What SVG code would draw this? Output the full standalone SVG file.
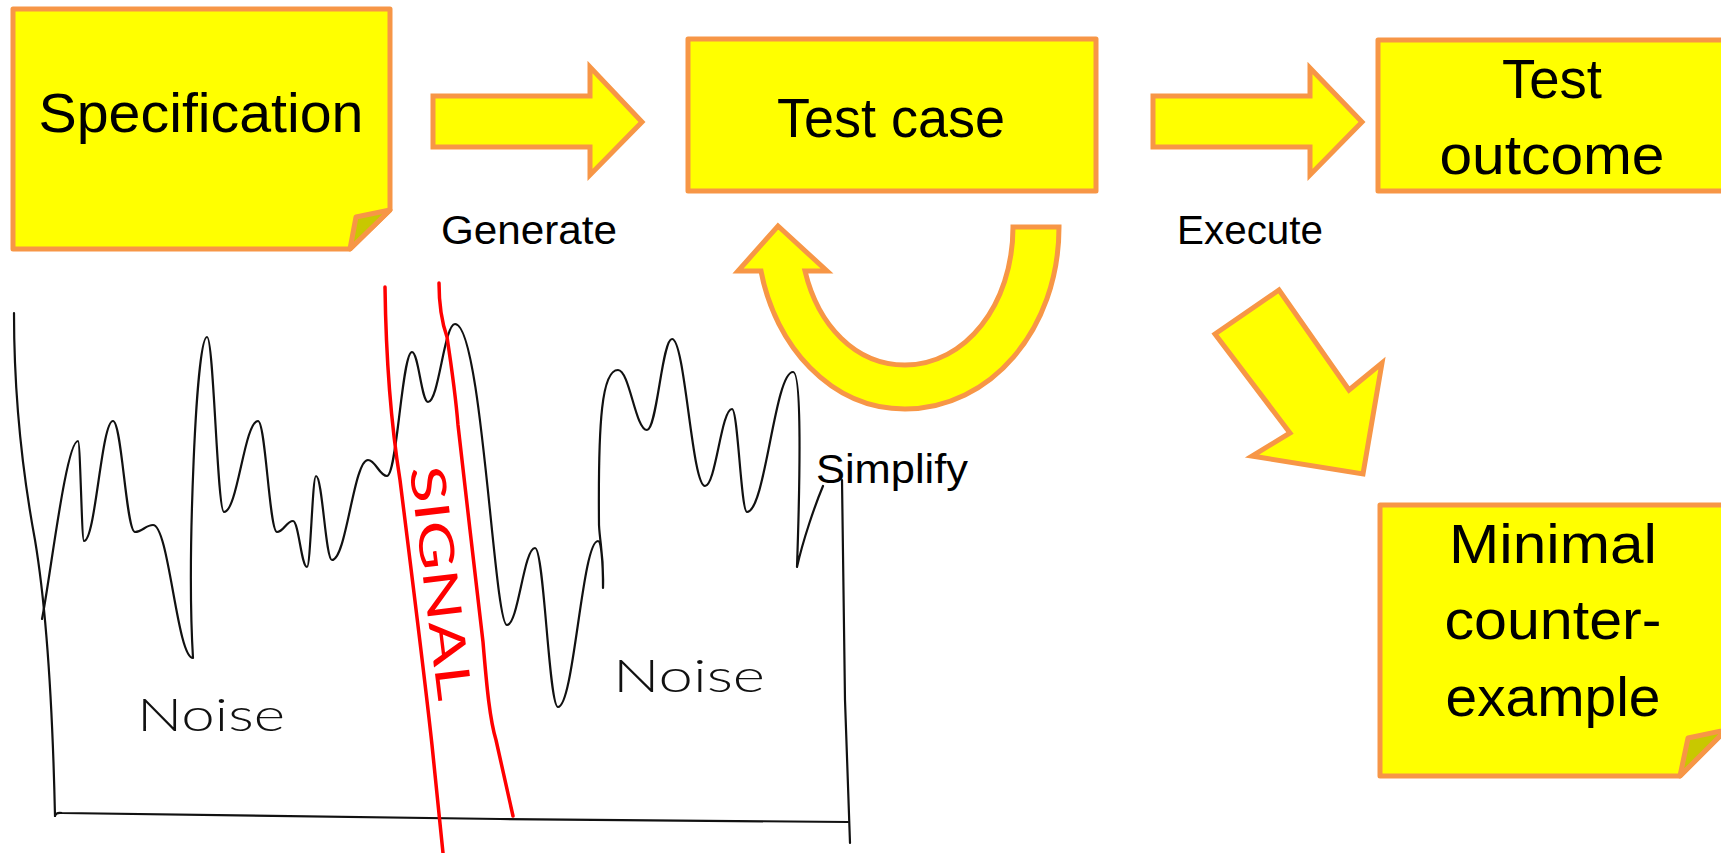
<svg xmlns="http://www.w3.org/2000/svg" width="1721" height="853" viewBox="0 0 1721 853">
<style>
.box{fill:#ffff00;stroke:#f79646;stroke-width:5;stroke-linejoin:round}
.flap{fill:#c8c800;stroke:#f79646;stroke-width:5;stroke-linejoin:round}
.arrow{fill:#ffff00;stroke:#f79646;stroke-width:5;stroke-linejoin:miter}
.big{font-family:"Liberation Sans",Arial,sans-serif;font-size:56px;fill:#000;text-anchor:middle}
.lbl{font-family:"Liberation Sans",Arial,sans-serif;font-size:40px;fill:#000;text-anchor:middle}
.ink{fill:none;stroke:#111;stroke-width:2.2;stroke-linecap:round;stroke-linejoin:round}
.red{fill:none;stroke:#ff0000;stroke-width:3.5;stroke-linecap:round;stroke-linejoin:round}
.hand{font-family:"Lato","DejaVu Sans",sans-serif;font-weight:300;font-size:46px;fill:#111;text-anchor:middle}
.handred{font-family:"Lato","DejaVu Sans",sans-serif;font-weight:400;font-size:48px;fill:#ff0000;text-anchor:middle}
</style>

<g id="sketch">
  <path class="ink" d="M 14 313 C 14 400 22 470 35 540 C 45 600 52 680 55 816"/>
  <path class="ink" d="M 55 816 Q 56 812 62 813 L 500 819 L 848 822"/>
  <path class="ink" d="M 842 480 L 845 700 L 850 843"/>
  <path class="ink" d="M 42 619 C 50 580 66 441 78 441 C 80.4 441 81.6 541 84 541 C 95.6 541 101.4 421 113 421 C 121.8 421 126.2 532 135 532 C 142.2 532 145.8 525 153 525 C 169 525 177 658 193 658 C 187 560 196 337 207 337 C 213.8 337 217.2 512 224 512 C 237.6 512 244.4 421 258 421 C 265.6 421 269.4 532 277 532 C 283.4 532 286.6 521 293 521 C 298.6 521 301.4 567 307 567 C 310.6 567 312.4 476 316 476 C 322.4 476 325.6 560 332 560 C 346.4 560 353.6 460 368 460 C 375.6 460 379.4 476 387 476 C 397 476 402 352 412 352 C 418.4 352 421.6 402 428 402 C 438.8 402 444.2 324 455 324 C 482 324 494 625 507 625 C 518.2 625 523.8 548 535 548 C 544.2 548 548.8 707 558 707 C 574 707 582 541 598 541 C 601 541 603 560 603 588 C 604 555 600 545 599 525 C 598 420 602 370 618 370 C 629.6 370 635.4 430 647 430 C 657 430 662 339 672 339 C 685.2 339 691.8 486 705 486 C 715.8 486 721.2 409 732 409 C 738 409 741 512 747 512 C 765.4 512 774.6 372 793 372 C 802 372 800 480 797 567 C 803 540 815 505 823 486"/>
  <path class="red" d="M 385 287 C 386 360 392 430 400 480 C 410 560 425 680 432 745 L 443 853"/>
  <path class="red" d="M 439 283 C 439 300 441 320 447 337 C 452 370 456 400 458 425 L 470 530 L 483 642 C 487 690 490 720 496 740 L 513 816"/>
  <text class="handred" x="424" y="585" textLength="236" lengthAdjust="spacingAndGlyphs" transform="rotate(83 424 585)">SIGNAL</text>
  <text class="hand" x="211" y="731" textLength="148" lengthAdjust="spacingAndGlyphs">Noise</text>
  <text class="hand" x="689" y="692" textLength="152" lengthAdjust="spacingAndGlyphs">Noise</text>
</g>

<g id="connectors">
  <polygon class="arrow" points="433,96 590,96 590,67 642,122 590,175 590,147 433,147"/>
  <text class="lbl" x="529" y="244" textLength="176" lengthAdjust="spacingAndGlyphs">Generate</text>
  <polygon class="arrow" points="1153,96 1310,96 1310,68 1362,122 1310,175 1310,147 1153,147"/>
  <text class="lbl" x="1250" y="244" textLength="146" lengthAdjust="spacingAndGlyphs">Execute</text>
  <path class="arrow" d="M 1013 227 L 1059 227 C 1059 330 990 409 905 409 C 830 409 775 345 761 271 L 738 271 L 778 226 L 827 271 L 805 271 C 818 325 855 365 905 365 C 965 365 1013 305 1013 227 Z"/>
  <text class="lbl" x="892" y="483" textLength="152" lengthAdjust="spacingAndGlyphs">Simplify</text>
  <polygon class="arrow" points="1215,334 1279,290 1349,390 1382,363 1363,474 1252,456 1290,433"/>
</g>

<g id="specification">
  <path class="box" d="M 13 9 L 390 9 L 390 210 L 350 249 L 13 249 Z"/>
  <path class="flap" d="M 390 210 L 356 217 L 350 249 Z"/>
  <text class="big" x="201" y="132" textLength="325" lengthAdjust="spacingAndGlyphs">Specification</text>
</g>

<g id="test-case">
  <rect class="box" x="688" y="39" width="408" height="152"/>
  <text class="big" x="891" y="137" textLength="228" lengthAdjust="spacingAndGlyphs">Test case</text>
</g>

<g id="test-outcome">
  <rect class="box" x="1378" y="40" width="348" height="151"/>
  <text class="big" x="1552" y="98" textLength="100" lengthAdjust="spacingAndGlyphs">Test</text>
  <text class="big" x="1552" y="174" textLength="225" lengthAdjust="spacingAndGlyphs">outcome</text>
</g>

<g id="minimal-counterexample">
  <path class="box" d="M 1380 505 L 1726 505 L 1726 730 L 1680 776 L 1380 776 Z"/>
  <path class="flap" d="M 1726 730 L 1688 738 L 1680 776 Z"/>
  <text class="big" x="1553" y="563" textLength="208" lengthAdjust="spacingAndGlyphs">Minimal</text>
  <text class="big" x="1553" y="639" textLength="217" lengthAdjust="spacingAndGlyphs">counter-</text>
  <text class="big" x="1553" y="716" textLength="215" lengthAdjust="spacingAndGlyphs">example</text>
</g>
</svg>
